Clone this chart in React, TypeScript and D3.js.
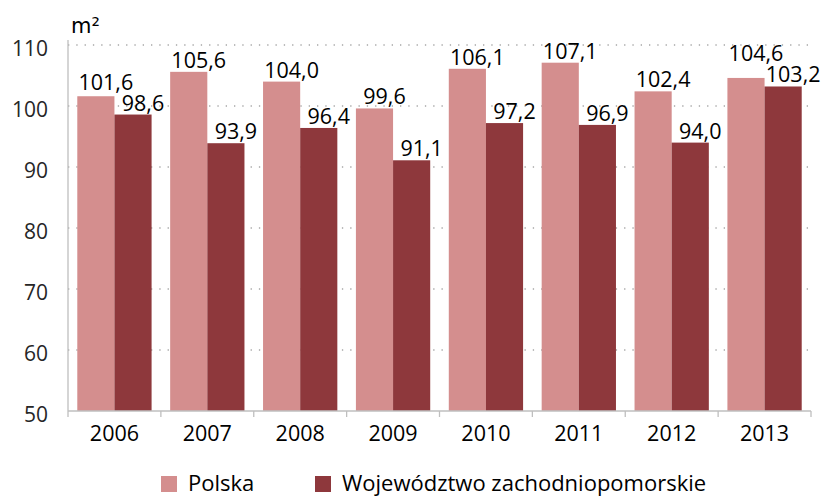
import * as d3 from "d3";

const years = ["2006", "2007", "2008", "2009", "2010", "2011", "2012", "2013"];
const polska = [101.6, 105.6, 104.0, 99.6, 106.1, 107.1, 102.4, 104.6];
const zachodniopomorskie = [98.6, 93.9, 96.4, 91.1, 97.2, 96.9, 94.0, 103.2];
const seriesNames = ["Polska", "Województwo zachodniopomorskie"];
const yTicks = [50, 60, 70, 80, 90, 100, 110];

const colors = ["#D48E8E", "#8E383C"];
const font = "'Open Sans', sans-serif";
const fmt = (v: number) => v.toFixed(1).replace(".", ",");

export default function App() {
  const width = 826;
  const height = 496;
  const left = 68;
  const right = 811;
  const top = 45;
  const bottom = 411;

  const x = d3.scaleBand<string>().domain(years).range([left, right]).paddingInner(0.2).paddingOuter(0.1);
  const sub = d3.scaleBand<number>().domain([0, 1]).range([0, x.bandwidth()]);
  const y = d3.scaleLinear().domain([50, 110]).range([bottom, top]);

  return (
    <svg
      width={width}
      height={height}
      style={{ position: "absolute", left: 0, top: 0, background: "#fff" }}
      fontFamily={font}
    >
      {/* gridlines */}
      {yTicks.slice(1).map((t) => (
        <line
          key={t}
          x1={left}
          x2={right}
          y1={y(t)}
          y2={y(t)}
          stroke="#A6A6A6"
          strokeWidth={1.3}
          strokeDasharray="1.3 7"
        />
      ))}
      {/* y labels */}
      {yTicks.map((t) => (
        <text key={t} x={48} y={y(t) + 11} textAnchor="end" fontSize={21} fill="#262626">
          {t}
        </text>
      ))}
      <text x={71} y={33} fontSize={21} fill="#000" fontFamily="'DejaVu Sans', sans-serif">
        m²
      </text>

      {/* bars */}
      {years.map((yr, i) => {
        const x0 = x(yr)!;
        const vals = [polska[i], zachodniopomorskie[i]];
        const yD = y(vals[1]) - 4;
        const yP = Math.min(y(vals[0]) - 4, yD - 21);
        const labelY = [yP, yD];
        return (
          <g key={yr}>
            {vals.map((v, j) => (
              <rect
                key={j}
                x={x0 + sub(j)!}
                y={y(v)}
                width={sub.bandwidth()}
                height={bottom - y(v)}
                fill={colors[j]}
              />
            ))}
            {vals.map((v, j) => (
              <text
                key={"l" + j}
                x={x0 + sub(j)! + sub.bandwidth() / 2 + 10}
                y={labelY[j]}
                textAnchor="middle"
                fontSize={21.5}
                fill="#000"
              >
                {fmt(v)}
              </text>
            ))}
          </g>
        );
      })}

      {/* axes */}
      <line x1={left} x2={left} y1={top - 5} y2={bottom} stroke="#BFBFBF" strokeWidth={1.3} />
      <line x1={left} x2={right} y1={bottom} y2={bottom} stroke="#BFBFBF" strokeWidth={1.3} />
      {years.map((yr) => (
        <line
          key={yr}
          x1={x(yr)! - (x.step() * x.paddingInner()) / 2}
          x2={x(yr)! - (x.step() * x.paddingInner()) / 2}
          y1={bottom}
          y2={bottom + 6}
          stroke="#BFBFBF"
          strokeWidth={1.3}
        />
      ))}
      <line x1={right} x2={right} y1={bottom} y2={bottom + 6} stroke="#BFBFBF" strokeWidth={1.3} />
      {years.map((yr) => (
        <text
          key={yr}
          x={x(yr)! + x.bandwidth() / 2}
          y={441}
          textAnchor="middle"
          fontSize={21.5}
          fill="#000"
        >
          {yr}
        </text>
      ))}

      {/* legend */}
      {seriesNames.map((name, i) => {
        const lx = [161, 315][i];
        return (
          <g key={name}>
            <rect x={lx} y={476} width={16} height={16} fill={colors[i]} />
            <text x={lx + 27} y={491} fontSize={22} fill="#000">
              {name}
            </text>
          </g>
        );
      })}
    </svg>
  );
}
